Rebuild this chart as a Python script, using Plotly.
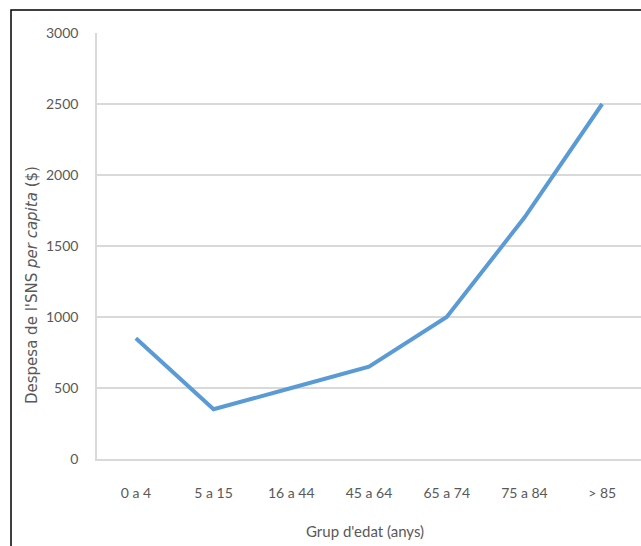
import plotly.graph_objects as go

# Age groups and per-capita health spending
age_groups = ["0 a 4", "5 a 15", "16 a 44", "45 a 64", "65 a 74", "75 a 84", "> 85"]
spending = [850, 350, 500, 650, 1000, 1700, 2500]
y_ticks = [0, 500, 1000, 1500, 2000, 2500, 3000]

W, H = 641, 546
L, R, T, B = 97, 0, 33, 87
pw, ph = W - L - R, H - T - B


def px(x):
    return (x - L) / pw


def py(y):
    return (H - B - y) / ph


fig = go.Figure(
    go.Scatter(
        x=age_groups,
        y=spending,
        mode="lines",
        line=dict(color="#5B9BD5", width=4),
        hoverinfo="x+y",
    )
)

tick_font = dict(family="Lato, sans-serif", size=14, color="#595959")

fig.update_layout(
    width=W,
    height=H,
    autosize=False,
    margin=dict(l=L, r=R, t=T, b=B, pad=0),
    paper_bgcolor="white",
    plot_bgcolor="white",
    showlegend=False,
    xaxis=dict(
        type="category",
        range=[-0.5, len(age_groups) - 0.5],
        showgrid=False,
        showline=True,
        linecolor="#D9D9D9",
        linewidth=1.5,
        ticks="",
        tickfont=tick_font,
        ticklabelstandoff=20,
        fixedrange=True,
    ),
    yaxis=dict(
        range=[0, 3000],
        tickvals=y_ticks,
        showgrid=True,
        gridcolor="#D9D9D9",
        gridwidth=1.5,
        showline=True,
        linecolor="#D9D9D9",
        linewidth=1.5,
        zeroline=False,
        ticks="",
        tickfont=tick_font,
        ticklabelstandoff=14,
        fixedrange=True,
    ),
    annotations=[
        dict(
            text="Despesa de l'SNS <i>per capita</i> ($)",
            xref="paper", yref="paper",
            x=px(32), y=py(285),
            xanchor="center", yanchor="middle",
            textangle=-90,
            showarrow=False,
            font=dict(family="DejaVu Sans, sans-serif", size=15, color="#595959"),
        ),
        dict(
            text="Grup d'edat (anys)",
            xref="paper", yref="paper",
            x=px(365), y=py(531),
            xanchor="center", yanchor="middle",
            showarrow=False,
            font=dict(family="Lato, sans-serif", size=15, color="#595959"),
        ),
    ],
    shapes=[
        dict(
            type="path",
            xref="paper", yref="paper",
            path=f"M {px(11)} {py(H + 5)} L {px(11)} {py(10)} L {px(W + 5)} {py(10)}",
            line=dict(color="black", width=1.5),
        )
    ],
)

fig.write_html("out.html")
